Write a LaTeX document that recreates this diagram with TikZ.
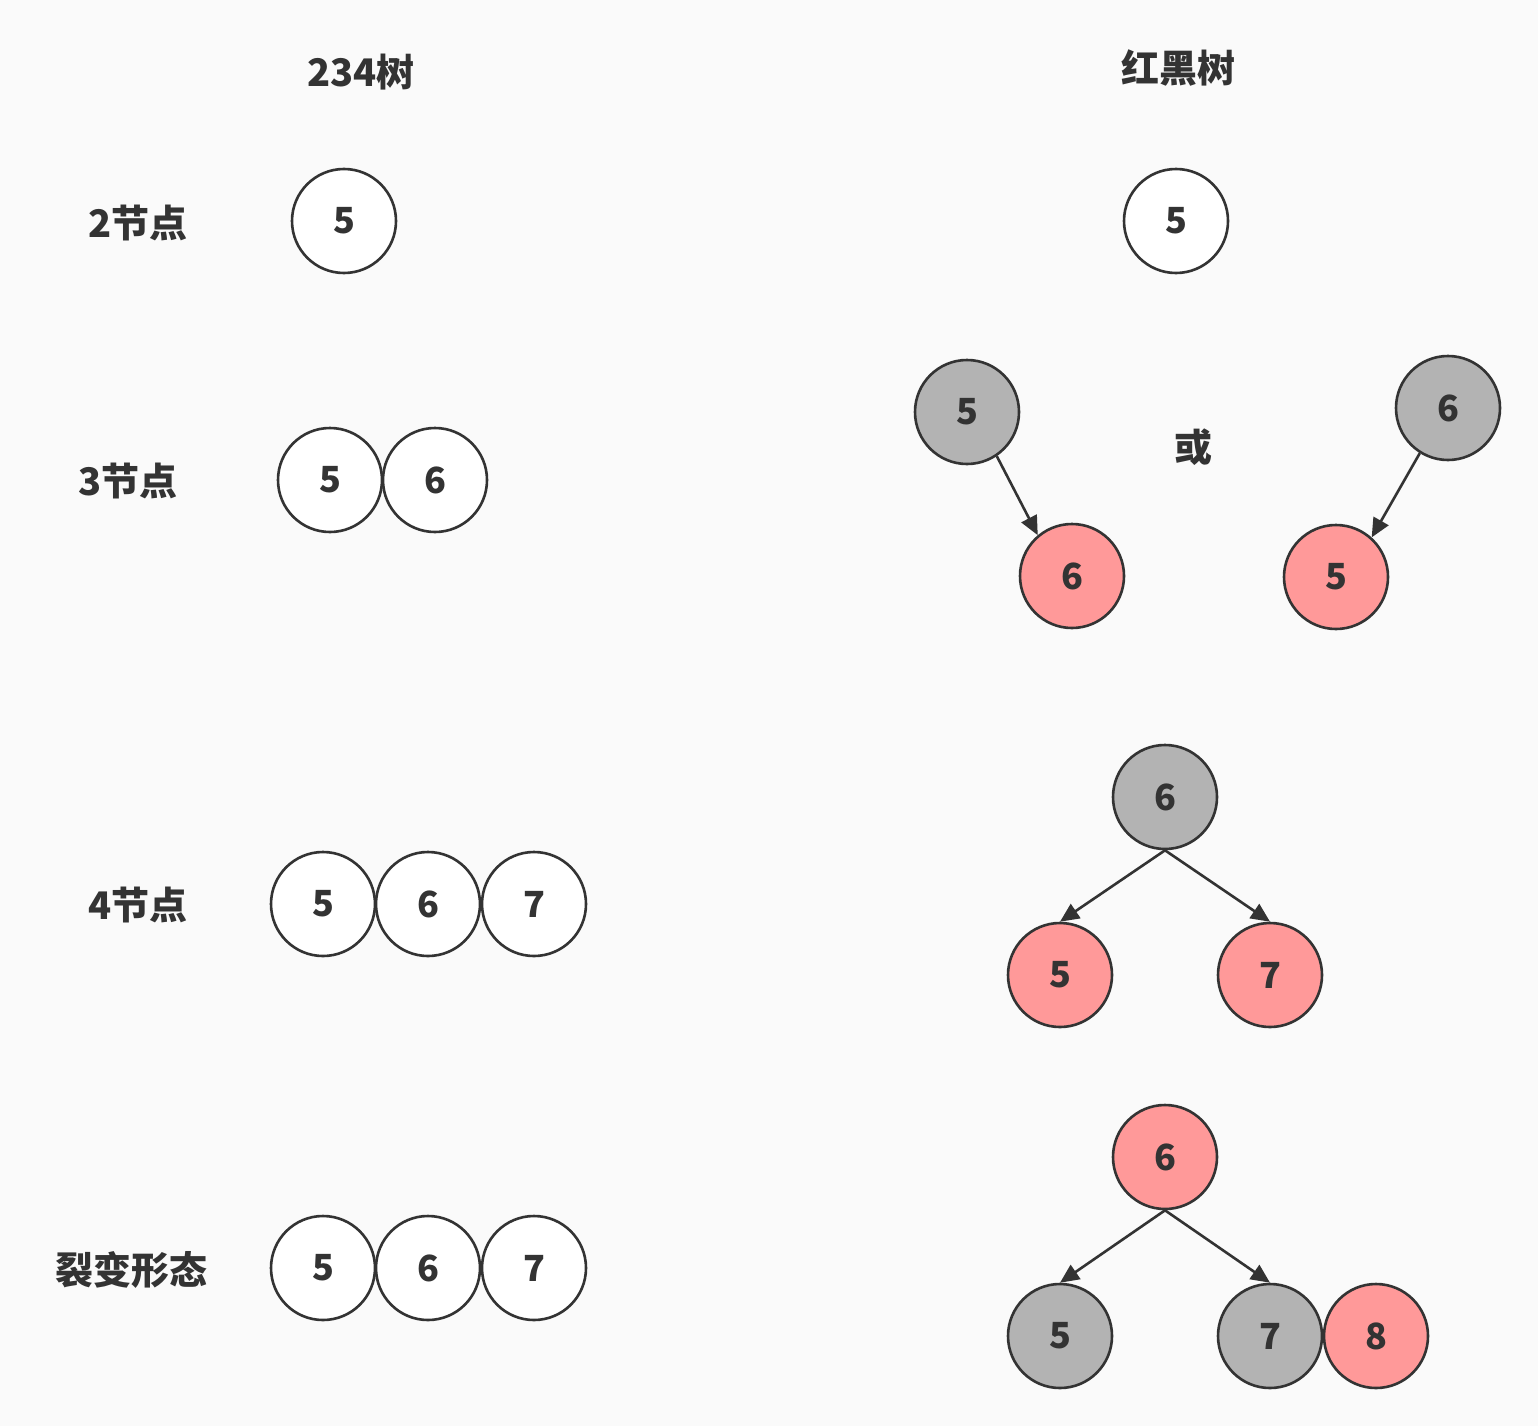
\documentclass[tikz,border=0pt]{standalone}
\usepackage{fontspec}
\setmainfont{Noto Sans CJK SC}
\usetikzlibrary{arrows.meta}
\definecolor{bg}{HTML}{FAFAFA}
\definecolor{ink}{HTML}{333333}
\definecolor{blk}{HTML}{B3B3B3}
\definecolor{rd}{HTML}{FF9999}
\tikzset{
  nd/.style={circle, draw=ink, line width=2.6pt, minimum size=104pt, inner sep=0pt,
    text=ink, font=\fontsize{36}{40}\selectfont\bfseries},
  wn/.style={nd, fill=white},
  bn/.style={nd, fill=blk},
  rn/.style={nd, fill=rd},
  lbl/.style={text=ink, font=\fontsize{38}{42}\selectfont\bfseries, inner sep=0pt},
  edge/.style={draw=ink, line width=2.6pt, -{Triangle[length=19pt,width=17pt]}}
}
\begin{document}
\begin{tikzpicture}[x=1pt,y=-1pt]
\fill[bg] (0,0) rectangle (1538,1426);
\useasboundingbox (0,0) rectangle (1538,1426);
% titles
\node[lbl] (t1) at (361,72) {234树};
\node[lbl] (t2) at (1178,68) {红黑树};
% row labels
\node[lbl] (l2) at (138,223) {2节点};
\node[lbl] (l3) at (128,481) {3节点};
\node[lbl] (l4) at (138,905) {4节点};
\node[lbl] (l5) at (131,1270) {裂变形态};
% 234 tree nodes
\node[wn] (a1) at (344,221) {5};
\node[wn] (b1) at (330,480) {5};
\node[wn] (b2) at (435,480) {6};
\node[wn] (c1) at (323,904) {5};
\node[wn] (c2) at (428,904) {6};
\node[wn] (c3) at (534,904) {7};
\node[wn] (d1) at (323,1268) {5};
\node[wn] (d2) at (428,1268) {6};
\node[wn] (d3) at (534,1268) {7};
% red-black tree nodes
\node[wn] (r1) at (1176,221) {5};
\node[bn] (p5) at (967,412) {5};
\node[rn] (p6) at (1072,576) {6};
\node[lbl] (or) at (1193,447) {或};
\node[bn] (q6) at (1448,408) {6};
\node[rn] (q5) at (1336,577) {5};
\node[bn] (s6) at (1165,797) {6};
\node[rn] (s5) at (1060,975) {5};
\node[rn] (s7) at (1270,975) {7};
\node[rn] (u6) at (1165,1157) {6};
\node[bn] (u5) at (1060,1336) {5};
\node[bn] (u7) at (1270,1336) {7};
\node[rn] (u8) at (1376,1336) {8};
% edges
\draw[edge] (p5.-56) -- (p6.130);
\draw[edge] (q6.-122) -- (q5.48);
\draw[edge] (s6.south) -- (s5.north);
\draw[edge] (s6.south) -- (s7.north);
\draw[edge] (u6.south) -- (u5.north);
\draw[edge] (u6.south) -- (u7.north);
\end{tikzpicture}
\end{document}
